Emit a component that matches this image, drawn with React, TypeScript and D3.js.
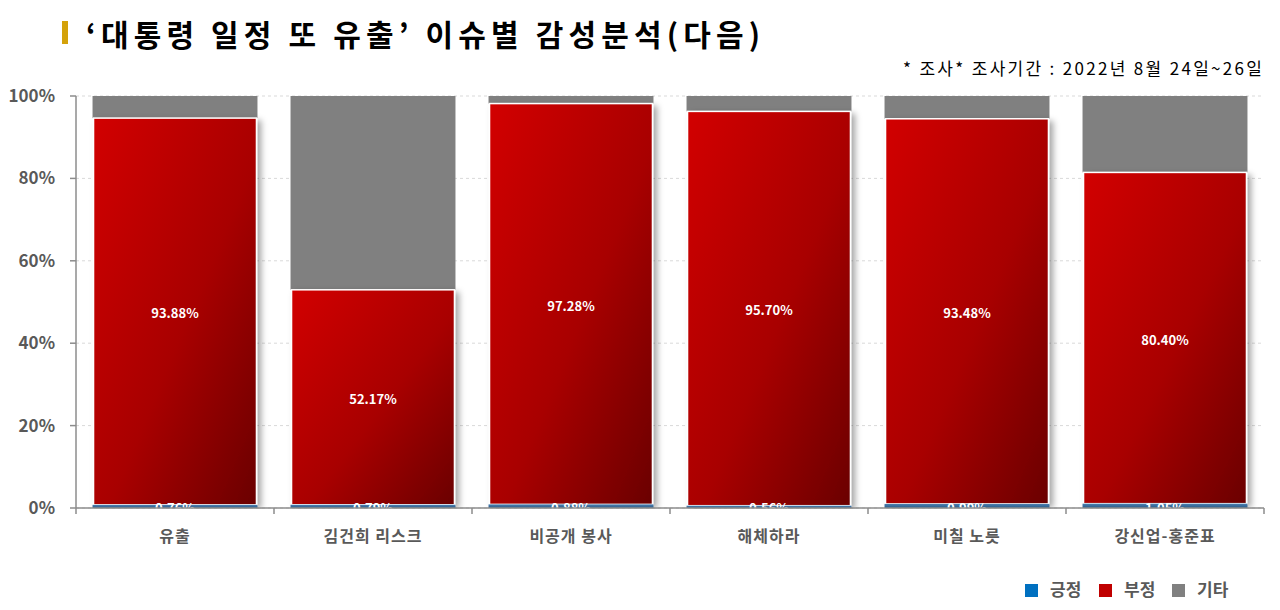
import React from "react";
import * as d3 from "d3";

const categories = ["유출", "김건희 리스크", "비공개 봉사", "해체하라", "미칠 노릇", "강신업-홍준표"];
const positive = [0.76, 0.79, 0.88, 0.56, 0.99, 1.05];
const negative = [93.88, 52.17, 97.28, 95.7, 93.48, 80.4];
const other = [5.36, 47.04, 1.84, 3.74, 5.53, 18.55];
const yTicks = [0, 20, 40, 60, 80, 100];
const seriesNames = ["긍정", "부정", "기타"];
const seriesColors = ["#0070c0", "#c00000", "#808080"];

const W = 1280;
const H = 610;
const left = 76;
const right = 1264;
const top = 96;
const bottom = 508;
const FONT = "'Noto Sans CJK KR', 'Noto Sans', sans-serif";

export default function App() {
  const x = d3.scaleBand<string>().domain(categories).range([left, right]).paddingInner(0.167).paddingOuter(0.0835);
  const y = d3.scaleLinear().domain([0, 100]).range([bottom, top]);
  const bw = x.bandwidth();

  const rows = categories.map((c, i) => ({ c, p: positive[i], n: negative[i], o: other[i] }));

  return (
    <svg width={W} height={H} style={{ position: "absolute", left: 0, top: 0, background: "#fff" }} fontFamily={FONT}>
      <defs>
        <linearGradient id="redGrad" x1="0" y1="0" x2="1" y2="1">
          <stop offset="0%" stopColor="#d20000" />
          <stop offset="55%" stopColor="#a80000" />
          <stop offset="100%" stopColor="#6a0000" />
        </linearGradient>
        <linearGradient id="blueGrad" x1="0" y1="0" x2="0" y2="1">
          <stop offset="0%" stopColor="#4a7fb0" />
          <stop offset="100%" stopColor="#2a5a88" />
        </linearGradient>
        <filter id="shadow" x="-10%" y="-10%" width="130%" height="120%">
          <feDropShadow dx="4" dy="3" stdDeviation="3" floodColor="#000" floodOpacity="0.35" />
        </filter>
      </defs>

      {/* title */}
      <rect x={62} y={21} width={6} height={23} fill="#d4a20a" />
      <text x={86} y={46} fontSize={30} fontWeight={700} fill="#000" textLength={674} lengthAdjust="spacing">
        ‘대통령 일정 또 유출’ 이슈별 감성분석(다음)
      </text>
      <text x={1262} y={75} fontSize={17} fill="#000" textAnchor="end" textLength={359} lengthAdjust="spacing">
        * 조사* 조사기간 : 2022년 8월 24일~26일
      </text>

      {/* gridlines */}
      {yTicks.map((t) => (
        <line key={"g" + t} x1={left} x2={right} y1={y(t)} y2={y(t)} stroke="#d9d9d9" strokeDasharray="3,3" strokeWidth={1} />
      ))}

      {/* bars */}
      {rows.map((r) => {
        const x0 = x(r.c)!;
        return (
          <g key={r.c}>
            <rect x={x0} y={y(r.p + r.n + r.o)} width={bw} height={y(r.p + r.n) - y(r.p + r.n + r.o)} fill="#808080" />
            <rect
              x={x0 + 1}
              y={y(r.p + r.n)}
              width={bw - 2}
              height={y(r.p) - y(r.p + r.n)}
              fill="url(#redGrad)"
              stroke="#ffffff"
              strokeWidth={1.5}
              filter="url(#shadow)"
            />
            <rect x={x0} y={y(r.p)} width={bw} height={y(0) - y(r.p)} fill="url(#blueGrad)" />
            <text
              x={x0 + bw / 2}
              y={(y(r.p) + y(r.p + r.n)) / 2 + 2}
              dy="0.35em"
              textAnchor="middle"
              fontSize={13}
              fontWeight={700}
              fill="#fff"
            >
              {r.n.toFixed(2)}%
            </text>
            <text x={x0 + bw / 2} y={y(0)} dy="0.35em" textAnchor="middle" fontSize={13} fontWeight={700} fill="#fff">
              {r.p.toFixed(2)}%
            </text>
          </g>
        );
      })}

      {/* cover below axis to clip positive labels */}
      <rect x={left} y={bottom + 1} width={right - left + 4} height={12} fill="#fff" />

      {/* y axis */}
      <line x1={left} x2={left} y1={top} y2={bottom} stroke="#8c8c8c" strokeWidth={1.5} />
      {yTicks.map((t) => (
        <g key={"t" + t}>
          <line x1={left - 6} x2={left} y1={y(t)} y2={y(t)} stroke="#8c8c8c" strokeWidth={1.5} />
          <text x={55} y={y(t)} dy="0.35em" textAnchor="end" fontSize={17} fontWeight={700} fill="#595959">
            {t}%
          </text>
        </g>
      ))}

      {/* x axis */}
      <line x1={left} x2={right} y1={bottom} y2={bottom} stroke="#8c8c8c" strokeWidth={1.5} />
      {[left, ...categories.map((c) => x(c)! + bw + (x.step() - bw) / 2)].map((px, i) => (
        <line key={"xt" + i} x1={px} x2={px} y1={bottom} y2={bottom + 6} stroke="#8c8c8c" strokeWidth={1.5} />
      ))}
      {categories.map((c) => (
        <text
          key={"xl" + c}
          x={x(c)! + bw / 2}
          y={536}
          dy="0.35em"
          textAnchor="middle"
          fontSize={16}
          fontWeight={700}
          fill="#595959"
          letterSpacing={1}
        >
          {c}
        </text>
      ))}

      {/* legend */}
      {(() => {
        const items = seriesNames.map((n, i) => ({ n, c: seriesColors[i] }));
        const starts = [1025, 1099, 1172];
        return items.map((it, i) => (
          <g key={it.n}>
            <rect x={starts[i]} y={584} width={13} height={13} fill={it.c} />
            <text x={starts[i] + 25} y={590} dy="0.35em" fontSize={17} fontWeight={700} fill="#595959">
              {it.n}
            </text>
          </g>
        ));
      })()}
    </svg>
  );
}
